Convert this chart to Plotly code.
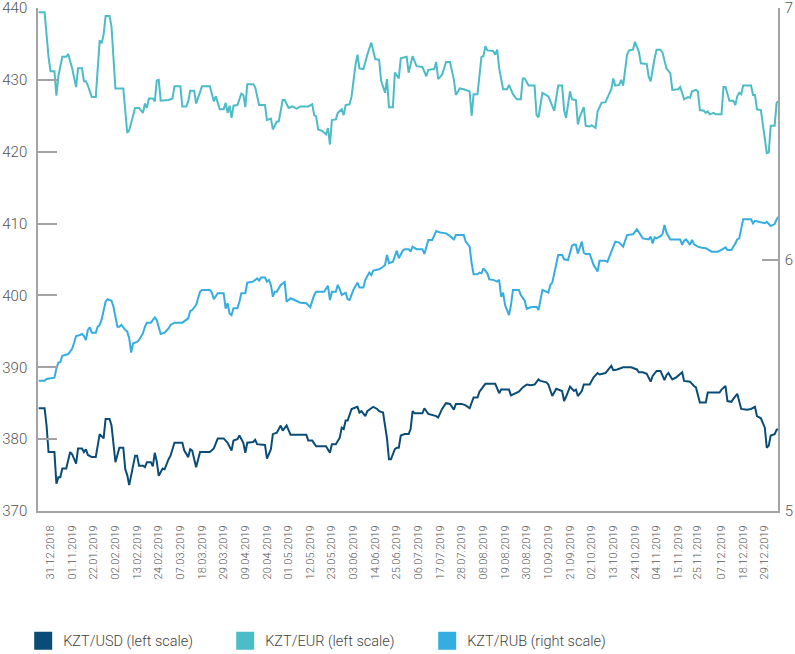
import pandas as pd
import plotly.graph_objects as go

# Day numbers are counted from 31.12.2018 (day 0)
base_date = "2018-12-31"

usd_days = [-6, -3, -2, -1, 2, 3, 4, 5, 6, 8, 10, 11, 13, 14, 16, 17, 18, 19, 21, 23,
            25, 27, 28, 30, 31, 33, 35, 37, 38, 39, 40, 42, 43, 44, 45, 47, 48, 49, 51, 52,
            53, 54, 55, 57, 58, 60, 61, 63, 67, 68, 70, 71, 72, 74, 76, 81, 83, 85, 88, 90,
            92, 93, 95, 96, 98, 99, 100, 103, 104, 105, 107, 109, 110, 112, 113, 115, 117, 118, 120, 122,
            130, 131, 133, 135, 140, 142, 143, 145, 147, 148, 149, 150, 151, 153, 155, 156, 157, 158, 160, 161,
            164, 166, 167, 169, 171, 172, 173, 175, 176, 177, 178, 180, 182, 183, 184, 185, 188, 189, 190, 192,
            196, 197, 199, 201, 203, 205, 206, 209, 211, 213, 215, 217, 218, 221, 226, 228, 229, 233, 234, 236,
            238, 240, 242, 244, 246, 248, 249, 252, 253, 255, 256, 257, 260, 261, 262, 264, 266, 267, 268, 270,
            271, 274, 276, 278, 279, 282, 285, 286, 288, 291, 293, 295, 298, 299, 301, 303, 305, 306, 308, 310,
            312, 313, 314, 316, 318, 321, 322, 325, 327, 328, 330, 333, 334, 340, 341, 343, 344, 346, 347, 349,
            351, 354, 356, 357, 358, 359, 361, 363, 364, 365, 366, 368, 369, 370]
usd_rate = [384.3, 384.3, 381.9, 378.2, 378.2, 373.8, 374.7, 374.7, 375.9, 375.9, 378.2, 377.9, 376.6, 378.7, 378.7, 378.2, 378.6, 377.8, 377.5, 377.5,
            380.7, 380.1, 382.8, 382.8, 381.9, 376.8, 378.8, 378.8, 375.8, 375.0, 373.6, 376.3, 377.7, 377.7, 376.3, 376.3, 376.1, 376.8, 376.8, 376.2,
            378.1, 376.9, 374.9, 375.9, 375.8, 377.2, 377.7, 379.5, 379.5, 378.4, 377.5, 378.6, 378.4, 376.1, 378.2, 378.2, 378.7, 380.1, 380.1, 379.5,
            378.4, 379.8, 380.0, 380.5, 379.5, 378.1, 379.5, 379.6, 379.9, 379.3, 379.3, 379.2, 377.3, 378.6, 380.7, 380.9, 381.9, 381.2, 381.9, 380.6,
            380.6, 379.8, 379.8, 379.0, 379.0, 378.1, 379.3, 379.3, 380.2, 381.6, 381.4, 382.6, 382.6, 384.2, 384.4, 384.5, 383.7, 383.9, 383.2, 383.9,
            384.5, 384.2, 383.9, 383.7, 380.1, 377.2, 377.2, 378.6, 378.8, 378.8, 380.5, 380.7, 380.7, 381.4, 383.9, 383.6, 383.6, 383.6, 384.3, 383.5,
            383.2, 383.0, 384.2, 385.0, 384.9, 384.1, 384.9, 384.9, 384.7, 384.3, 385.8, 385.8, 386.6, 387.7, 387.7, 386.4, 386.9, 386.9, 386.1, 386.4,
            386.6, 387.2, 387.6, 387.5, 387.6, 388.3, 388.1, 387.9, 387.6, 386.0, 386.5, 387.0, 386.7, 385.3, 385.9, 387.3, 386.7, 386.9, 386.0, 386.7,
            387.6, 387.6, 388.6, 389.2, 389.0, 389.2, 390.2, 389.6, 389.7, 390.0, 390.0, 390.0, 389.7, 389.3, 389.3, 389.1, 388.0, 388.8, 389.5, 389.5,
            388.2, 388.9, 389.2, 388.3, 388.6, 389.3, 388.1, 388.0, 387.4, 387.2, 385.1, 385.1, 386.5, 386.5, 386.9, 387.4, 385.3, 385.2, 385.6, 386.3,
            384.2, 384.1, 384.2, 384.4, 384.5, 383.2, 382.9, 381.6, 378.8, 379.1, 380.5, 380.7, 381.3, 381.4]

eur_days = [-6, -3, -1, 0, 2, 3, 4, 6, 8, 9, 11, 13, 14, 16, 17, 18, 19, 21, 23, 25,
            26, 27, 28, 30, 31, 33, 37, 39, 40, 43, 45, 47, 48, 49, 50, 52, 53, 54, 55, 56,
            60, 62, 63, 66, 67, 69, 70, 71, 73, 74, 77, 81, 83, 84, 86, 88, 89, 90, 91, 92,
            93, 95, 97, 98, 99, 100, 103, 104, 106, 109, 110, 112, 113, 115, 116, 118, 119, 121, 123, 125,
            127, 131, 133, 134, 135, 136, 138, 140, 141, 142, 143, 145, 146, 148, 149, 150, 152, 153, 155, 156,
            157, 159, 161, 163, 165, 167, 168, 170, 171, 172, 174, 175, 177, 178, 181, 182, 184, 186, 189, 191,
            192, 195, 196, 197, 199, 201, 203, 205, 206, 208, 210, 211, 213, 214, 215, 217, 219, 220, 221, 222,
            225, 226, 227, 228, 230, 232, 233, 235, 237, 239, 240, 241, 243, 246, 247, 248, 250, 253, 255, 256,
            258, 260, 261, 262, 264, 265, 267, 268, 269, 271, 272, 274, 275, 277, 278, 280, 282, 284, 285, 286,
            287, 289, 290, 291, 293, 294, 296, 297, 299, 300, 301, 303, 304, 305, 307, 308, 310, 311, 313, 315,
            316, 319, 320, 322, 324, 325, 326, 328, 329, 330, 332, 333, 334, 335, 337, 338, 341, 342, 343, 345,
            347, 348, 349, 350, 351, 352, 356, 357, 358, 359, 361, 362, 363, 364, 365, 366, 368, 369, 370]
eur_rate = [439.4, 439.4, 433.2, 431.2, 431.2, 427.8, 430.5, 433.2, 433.2, 433.6, 431.6, 429.0, 431.6, 431.6, 429.8, 429.8, 429.2, 427.6, 427.6, 435.5,
            435.1, 436.3, 438.9, 438.9, 437.4, 428.8, 428.8, 422.6, 423.0, 426.1, 426.1, 425.4, 426.7, 426.1, 427.4, 427.4, 427.0, 429.9, 430.0, 427.1,
            427.2, 427.4, 429.1, 429.1, 426.3, 426.3, 427.0, 428.5, 428.5, 426.7, 429.1, 429.1, 427.0, 427.7, 425.9, 425.9, 426.8, 425.4, 426.4, 424.7,
            426.4, 426.5, 428.1, 427.9, 426.2, 429.4, 429.4, 429.0, 426.5, 426.5, 424.4, 424.6, 423.1, 424.2, 424.2, 427.2, 427.2, 426.1, 426.3, 426.0,
            426.3, 426.3, 426.6, 425.1, 424.9, 423.1, 422.9, 422.4, 423.3, 421.0, 424.4, 424.5, 425.4, 425.9, 425.1, 426.5, 426.6, 427.7, 432.1, 433.5,
            431.6, 431.5, 433.5, 435.2, 432.9, 432.8, 429.9, 428.2, 430.1, 426.2, 426.2, 431.0, 430.2, 433.0, 433.2, 431.0, 433.3, 431.9, 431.8, 430.5,
            431.4, 431.5, 432.5, 430.1, 430.7, 432.5, 432.5, 430.0, 427.9, 428.8, 428.7, 428.6, 428.4, 425.0, 428.0, 428.0, 433.2, 433.3, 434.7, 434.1,
            434.0, 433.5, 434.2, 431.6, 428.7, 428.7, 429.3, 428.0, 427.3, 427.3, 430.2, 430.2, 429.2, 429.2, 425.1, 424.8, 428.2, 427.7, 426.4, 425.7,
            429.2, 429.2, 425.8, 424.7, 428.4, 427.3, 427.2, 423.8, 424.9, 426.2, 423.6, 423.5, 423.7, 423.3, 425.6, 426.8, 426.9, 428.2, 428.7, 430.2,
            429.2, 429.3, 430.0, 429.2, 433.5, 434.1, 434.2, 435.3, 433.9, 432.3, 432.3, 432.2, 430.4, 429.8, 433.0, 434.2, 434.2, 433.8, 431.6, 430.9,
            428.6, 428.7, 429.0, 427.3, 427.6, 427.5, 428.4, 428.6, 428.4, 425.8, 425.7, 425.4, 425.6, 425.2, 425.4, 425.2, 425.2, 429.0, 429.0, 427.1,
            427.1, 426.5, 427.7, 428.2, 428.0, 429.2, 429.2, 427.9, 427.9, 425.9, 425.8, 423.8, 422.1, 419.8, 419.9, 423.6, 423.6, 426.8, 427.0]

rub_days = [-6, -3, -2, 2, 3, 4, 5, 6, 9, 10, 11, 12, 13, 15, 16, 17, 18, 19, 20, 21,
            23, 24, 25, 26, 27, 28, 29, 31, 32, 33, 34, 35, 36, 38, 39, 40, 41, 42, 44, 45,
            47, 48, 49, 51, 53, 54, 55, 56, 58, 60, 61, 63, 67, 70, 71, 72, 74, 76, 77, 81,
            82, 83, 85, 87, 88, 89, 90, 91, 92, 93, 95, 96, 97, 99, 100, 103, 104, 105, 106, 107,
            109, 110, 111, 112, 113, 114, 115, 117, 119, 120, 122, 124, 127, 130, 132, 134, 135, 139, 141, 142,
            143, 145, 146, 147, 148, 150, 151, 152, 154, 156, 157, 159, 160, 162, 163, 164, 167, 169, 170, 171,
            172, 174, 175, 176, 177, 179, 180, 182, 183, 184, 186, 189, 190, 192, 194, 196, 198, 200, 201, 203,
            205, 206, 210, 211, 213, 214, 215, 217, 218, 219, 220, 222, 223, 225, 227, 228, 229, 230, 231, 233,
            234, 235, 238, 239, 241, 242, 244, 247, 248, 250, 253, 254, 255, 258, 260, 261, 263, 265, 266, 267,
            268, 270, 271, 272, 274, 276, 278, 279, 282, 283, 285, 287, 289, 291, 293, 296, 298, 300, 301, 304,
            305, 306, 307, 308, 310, 311, 312, 313, 315, 320, 321, 322, 323, 325, 326, 327, 329, 331, 333, 336,
            339, 341, 343, 344, 346, 348, 349, 350, 351, 352, 356, 357, 358, 360, 361, 363, 364, 366, 368, 369,
            370]
rub_rate = [5.518, 5.518, 5.525, 5.530, 5.567, 5.590, 5.592, 5.617, 5.624, 5.633, 5.645, 5.669, 5.696, 5.700, 5.704, 5.696, 5.680, 5.720, 5.730, 5.709,
            5.709, 5.733, 5.740, 5.762, 5.799, 5.832, 5.842, 5.836, 5.812, 5.766, 5.733, 5.733, 5.740, 5.720, 5.713, 5.687, 5.630, 5.667, 5.672, 5.680,
            5.707, 5.733, 5.749, 5.749, 5.770, 5.759, 5.726, 5.704, 5.709, 5.726, 5.740, 5.749, 5.749, 5.766, 5.795, 5.799, 5.819, 5.872, 5.879, 5.879,
            5.868, 5.842, 5.866, 5.868, 5.866, 5.805, 5.826, 5.785, 5.779, 5.806, 5.806, 5.832, 5.866, 5.866, 5.908, 5.912, 5.919, 5.925, 5.916, 5.928,
            5.928, 5.912, 5.919, 5.899, 5.852, 5.872, 5.872, 5.899, 5.910, 5.832, 5.846, 5.839, 5.828, 5.826, 5.810, 5.859, 5.872, 5.872, 5.895, 5.839,
            5.872, 5.872, 5.899, 5.881, 5.859, 5.868, 5.842, 5.839, 5.881, 5.908, 5.889, 5.889, 5.919, 5.948, 5.938, 5.956, 5.961, 5.971, 5.978, 6.018,
            5.985, 5.991, 6.011, 6.035, 6.005, 6.035, 6.041, 6.041, 6.031, 6.051, 6.041, 6.041, 6.022, 6.078, 6.078, 6.113, 6.107, 6.107, 6.104, 6.093,
            6.080, 6.097, 6.097, 6.071, 6.051, 5.985, 5.941, 5.941, 5.948, 5.945, 5.965, 5.945, 5.921, 5.919, 5.912, 5.919, 5.852, 5.868, 5.819, 5.779,
            5.819, 5.879, 5.879, 5.859, 5.836, 5.804, 5.810, 5.812, 5.799, 5.879, 5.868, 5.899, 5.908, 6.018, 6.018, 6.001, 5.998, 6.054, 6.060, 6.058,
            6.024, 6.071, 6.027, 6.022, 6.022, 5.978, 5.952, 5.995, 5.995, 5.991, 6.031, 6.071, 6.067, 6.051, 6.097, 6.100, 6.120, 6.093, 6.084, 6.080,
            6.091, 6.064, 6.088, 6.084, 6.093, 6.101, 6.137, 6.107, 6.080, 6.080, 6.058, 6.075, 6.080, 6.058, 6.078, 6.060, 6.051, 6.047, 6.045, 6.031,
            6.031, 6.038, 6.048, 6.038, 6.038, 6.064, 6.080, 6.084, 6.124, 6.160, 6.160, 6.144, 6.154, 6.150, 6.146, 6.144, 6.150, 6.133, 6.141, 6.160,
            6.170]

tick_dates = ["2018-12-31", "2019-01-11", "2019-01-22", "2019-02-02", "2019-02-13", "2019-02-24",
              "2019-03-07", "2019-03-18", "2019-03-29", "2019-04-09", "2019-04-20", "2019-05-01",
              "2019-05-12", "2019-05-23", "2019-06-03", "2019-06-14", "2019-06-25", "2019-07-06",
              "2019-07-17", "2019-07-28", "2019-08-08", "2019-08-19", "2019-08-30", "2019-09-10",
              "2019-09-21", "2019-10-02", "2019-10-13", "2019-10-24", "2019-11-04", "2019-11-15",
              "2019-11-25", "2019-12-07", "2019-12-18", "2019-12-29"]
tick_labels = ["31.12.2018", "01.11.2019", "22.01.2019", "02.02.2019", "13.02.2019", "24.02.2019",
               "07.03.2019", "18.03.2019", "29.03.2019", "09.04.2019", "20.04.2019", "01.05.2019",
               "12.05.2019", "23.05.2019", "03.06.2019", "14.06.2019", "25.06.2019", "06.07.2019",
               "17.07.2019", "28.07.2019", "08.08.2019", "19.08.2019", "30.08.2019", "10.09.2019",
               "21.09.2019", "02.10.2019", "13.10.2019", "24.10.2019", "04.11.2019", "15.11.2019",
               "25.11.2019", "07.12.2019", "18.12.2019", "29.12.2019"]

left_ticks = [370, 380, 390, 400, 410, 420, 430, 440]
right_ticks = [5, 6, 7]

series_names = ["KZT/USD (left scale)", "KZT/EUR (left scale)", "KZT/RUB (right scale)"]
series_colors = ["#0a4c78", "#4cbcc7", "#35ade0"]


def to_dates(days):
    return pd.Timestamp(base_date) + pd.to_timedelta(days, unit="D")


fig = go.Figure()
fig.add_trace(go.Scatter(x=to_dates(usd_days), y=usd_rate, mode="lines",
                         line=dict(color=series_colors[0], width=2), showlegend=False, yaxis="y"))
fig.add_trace(go.Scatter(x=to_dates(eur_days), y=eur_rate, mode="lines",
                         line=dict(color=series_colors[1], width=2), showlegend=False, yaxis="y"))
fig.add_trace(go.Scatter(x=to_dates(rub_days), y=rub_rate, mode="lines",
                         line=dict(color=series_colors[2], width=2), showlegend=False, yaxis="y2"))

# legend entries drawn as squares
for name, col in zip(series_names, series_colors):
    fig.add_trace(go.Scatter(x=[None], y=[None], mode="markers", name=name,
                             marker=dict(symbol="square", size=16, color=col,
                                         line=dict(color=col, width=2))))

axis_grey = "#a3a3a3"
fig.update_layout(
    width=795, height=654,
    margin=dict(l=38, r=17, t=8, b=143, autoexpand=False),
    paper_bgcolor="white", plot_bgcolor="white",
    font=dict(family="Roboto", color="#555555", weight=300),
    xaxis=dict(type="date", range=["2018-12-24 15:36", "2020-01-04 16:48"],
               tickmode="array", tickvals=tick_dates, ticktext=tick_labels,
               tickangle=-90, ticks="", showline=True, linecolor=axis_grey, linewidth=2,
               showgrid=False, zeroline=False, tickfont=dict(size=11, color="#5a5a5a"),
               ticklabelstandoff=8, automargin=False, ticklabeloverflow="allow"),
    yaxis=dict(range=[370, 440], tickmode="array", tickvals=left_ticks,
               ticks="inside", ticklen=19, tickwidth=1.5, tickcolor=axis_grey,
               showline=True, linecolor=axis_grey, linewidth=1.5,
               showgrid=False, zeroline=False, tickfont=dict(size=15, color="#555555"),
               ticklabelstandoff=6, automargin=False, ticklabeloverflow="allow"),
    yaxis2=dict(range=[5, 7], tickmode="array", tickvals=right_ticks, overlaying="y", side="right",
                ticks="inside", ticklen=16, tickwidth=1.5, tickcolor=axis_grey,
                showline=True, linecolor=axis_grey, linewidth=1.5,
                showgrid=False, zeroline=False, tickfont=dict(size=15, color="#555555"),
                ticklabelstandoff=2, automargin=False, ticklabeloverflow="allow"),
    legend=dict(orientation="h", x=-0.020, xanchor="left", y=-0.258, yanchor="middle",
                font=dict(size=14.5, color="#444444"), entrywidth=157, entrywidthmode="pixels",
                itemclick=False),
)

fig.write_html("out.html", config={"displayModeBar": False},
               post_script="document.body.style.margin='0';")
